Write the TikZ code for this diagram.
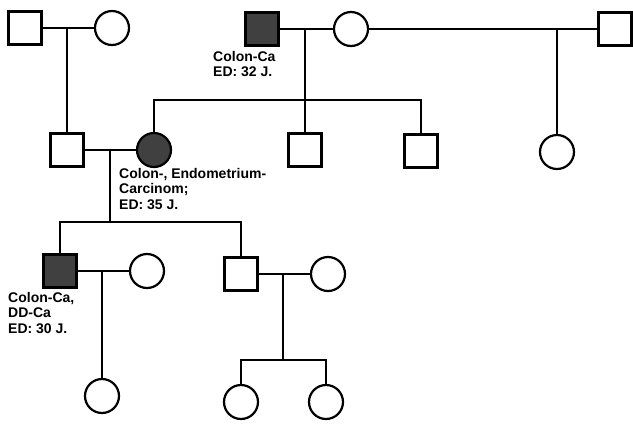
\documentclass[tikz,border=0pt]{standalone}
\usepackage{fontspec}
\setmainfont{Liberation Sans}
\begin{document}
\begin{tikzpicture}[x=1pt,y=-1pt,
  male/.style={draw,line width=2.2pt,minimum size=33pt,inner sep=0pt,rectangle},
  female/.style={draw,line width=2.2pt,minimum size=34pt,inner sep=0pt,circle},
  affected/.style={fill=black!75},
  link/.style={line width=2.2pt},
  lbl/.style={anchor=north west,inner sep=0pt,align=left,font=\fontsize{14}{15.5}\selectfont\bfseries}]
\useasboundingbox[fill=white] (0,0) rectangle (633,424);
% generation 1
\node[male] (A) at (25,28) {};
\node[female] (B) at (112,28) {};
\node[male,affected] (C) at (262,29) {};
\node[female] (D) at (351,29) {};
\node[male] (E) at (615,29) {};
% generation 2
\node[male] (J) at (67,150) {};
\node[female,affected] (G) at (154,150) {};
\node[male] (H) at (305,150) {};
\node[male] (I) at (421,151) {};
\node[female] (F) at (557,152) {};
% generation 3
\node[male,affected] (K) at (60,271) {};
\node[female] (L) at (147,271) {};
\node[male] (N) at (241,274) {};
\node[female] (O) at (328,274) {};
% generation 4
\node[female] (M) at (102,396) {};
\node[female] (P) at (241,402) {};
\node[female] (Q) at (326,402) {};
% coordinates
\coordinate (ab) at (67,28);
\coordinate (cd) at (305,29);
\coordinate (s1) at (305,100);
\coordinate (de) at (557,29);
\coordinate (jg) at (110,150);
\coordinate (s2) at (110,222);
\coordinate (kl) at (102,271);
\coordinate (no) at (283,274);
\coordinate (s3) at (283,360);
% connectors
\draw[link] (A) -- (B);
\draw[link] (ab) -- (J);
\draw[link] (C) -- (D);
\draw[link] (D) -- (E);
\draw[link] (cd) -- (H);
\draw[link] (G.north) |- (s1) -| (I.north);
\draw[link] (de) -- (F);
\draw[link] (J) -- (G);
\draw[link] (jg) -- (s2);
\draw[link] (K.north) |- (s2) -| (N.north);
\draw[link] (K) -- (L);
\draw[link] (kl) -- (M);
\draw[link] (N) -- (O);
\draw[link] (no) -- (s3);
\draw[link] (P.north) |- (s3) -| (Q.north);
% labels
\node[lbl] (tC) at (213,51) {Colon-Ca\\ED: 32 J.};
\node[lbl] (tG) at (119,168) {Colon-, Endometrium-\\Carcinom;\\ED: 35 J.};
\node[lbl] (tK) at (8,292) {Colon-Ca,\\DD-Ca\\ED: 30 J.};
\end{tikzpicture}
\end{document}
